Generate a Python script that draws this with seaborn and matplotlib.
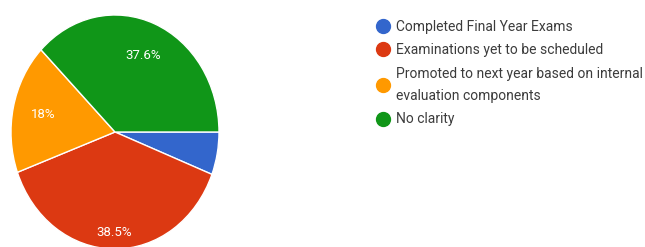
import numpy as np
import matplotlib
matplotlib.use('Agg')
import matplotlib.pyplot as plt
from matplotlib.lines import Line2D
import seaborn as sns

# Data
categories = [
    'Completed Final Year Exams',
    'Examinations yet to be scheduled',
    'Promoted to next year based on internal\nevaluation components',
    'No clarity',
]
shares = [5.9, 38.5, 18.0, 37.6]
pct_labels = ['', '38.5%', '18%', '37.6%']
colors = ['#3366cc', '#dc3912', '#ff9900', '#109618']

sns.set_theme(style='white')
plt.rcParams['font.family'] = ['Roboto', 'DejaVu Sans']

W, H = 645, 247
fig = plt.figure(figsize=(W / 100, H / 100), dpi=100)
fig.patch.set_facecolor('white')

# pie axes (the reference pie is slightly stretched vertically)
cx, cy, rx, ry = 115, 132, 104, 117
ax = fig.add_axes([(cx - rx) / W, (H - cy - ry) / H, 2 * rx / W, 2 * ry / H])
wedges, _ = ax.pie(shares, colors=colors, startangle=0, counterclock=False,
                   radius=1.0, wedgeprops=dict(edgecolor='white', linewidth=1))
ax.set_aspect('auto')
ax.set_xlim(-1, 1)
ax.set_ylim(-1, 1)
ax.axis('off')

# percentage labels placed at the middle angle of each wedge
label_dist = [0.72, 0.86, 0.71, 0.71]
for w, lab, d in zip(wedges, pct_labels, label_dist):
    if not lab:
        continue
    mid = np.deg2rad((w.theta1 + w.theta2) / 2)
    ax.text(d * np.cos(mid), d * np.sin(mid), lab, ha='center', va='center',
            color='white', fontsize=9.5)

handles = [Line2D([], [], marker='o', linestyle='none', markersize=10,
                  markerfacecolor=c, markeredgecolor=c) for c in colors]
leg = fig.legend(handles, categories, loc='upper left',
                 bbox_to_anchor=(370 / W, 1 - 14 / H), frameon=False,
                 fontsize=10, handlelength=1.0, handletextpad=0.5,
                 labelspacing=0.7, borderaxespad=0)
for t in leg.get_texts():
    t.set_color('#3c3c3c')
    t.set_linespacing(1.7)

fig.savefig('out.png', dpi=100)
